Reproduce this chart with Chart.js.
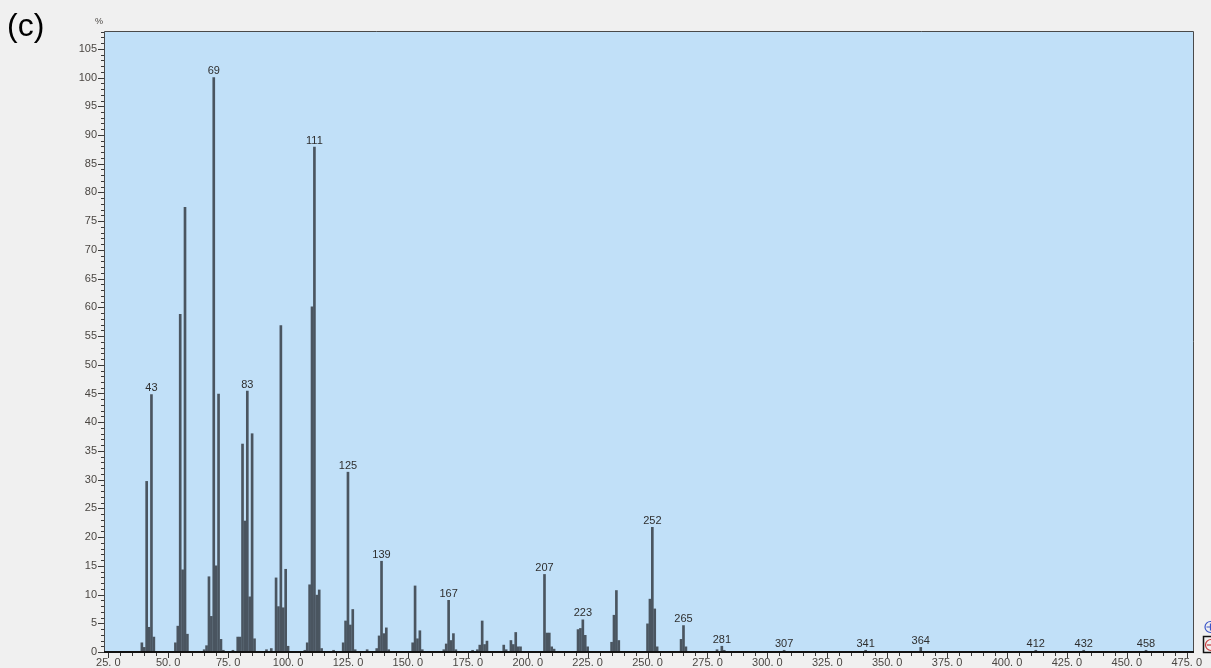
<!DOCTYPE html>
<html>
<head>
<meta charset="utf-8">
<script src="https://cdn.jsdelivr.net/npm/chart.js@4.4.1/dist/chart.umd.min.js"></script>
<style>
  html, body { margin: 0; padding: 0; background: #f0f0f0; }
  #wrap { width: 1211px; height: 668px; position: relative; }
</style>
</head>
<body>
<div id="wrap"><canvas id="spectrum" width="1211" height="668"></canvas></div>
<script>
// m/z of each fragment peak
const massValues = [
  39, 40, 41, 42, 43, 44,
  53, 54, 55, 56, 57, 58,
  65, 66, 67, 68, 69, 70, 71, 72, 73,
  77, 79, 80, 81, 82, 83, 84, 85, 86,
  91, 93, 95, 96, 97, 98, 99, 100,
  107, 108, 109, 110, 111, 112, 113, 114,
  119, 123, 124, 125, 126, 127, 128,
  133, 137, 138, 139, 140, 141, 142,
  152, 153, 154, 155, 156,
  165, 166, 167, 168, 169, 170,
  177, 179, 180, 181, 182, 183,
  190, 191, 193, 194, 195, 196, 197,
  207, 208, 209, 210, 211,
  221, 222, 223, 224, 225,
  235, 236, 237, 238,
  250, 251, 252, 253, 254,
  264, 265, 266,
  279, 281, 282,
  307, 341, 364, 412, 432, 458
];

// relative abundance (%) for each peak above
const intensities = [
  1.6, 0.8, 29.7, 4.3, 44.8, 2.6,
  1.6, 4.5, 58.8, 14.3, 77.4, 3.1,
  0.4, 1.1, 13.1, 6.2, 100, 15.0, 44.9, 2.2, 0.3,
  0.3, 2.6, 2.6, 36.2, 22.8, 45.4, 9.6, 38.0, 2.3,
  0.4, 0.6, 12.9, 7.9, 56.8, 7.7, 14.4, 1.0,
  0.3, 1.6, 11.7, 60.1, 87.9, 9.9, 10.8, 0.6,
  0.3, 1.6, 5.4, 31.3, 4.7, 7.4, 0.4,
  0.4, 0.6, 2.8, 15.8, 3.2, 4.2, 0.4,
  1.6, 11.5, 2.3, 3.7, 0.4,
  0.4, 1.4, 9.0, 2.0, 3.2, 0.4,
  0.3, 0.4, 1.2, 5.4, 1.3, 1.9,
  1.2, 0.4, 2.0, 1.3, 3.4, 0.9, 0.9,
  13.5, 3.3, 3.3, 0.9, 0.5,
  3.9, 4.1, 5.6, 2.9, 0.9,
  1.7, 6.4, 10.7, 2.0,
  4.9, 9.2, 21.7, 7.5, 0.9,
  2.2, 4.6, 0.9,
  0.4, 1.0, 0.3,
  0.3, 0.3, 0.8, 0.3, 0.3, 0.3
];

// peaks annotated with their m/z
const labeledMasses = [43, 69, 83, 111, 125, 139, 167, 207, 223, 252, 265, 281, 307, 341, 364, 412, 432, 458];

// axis tick values
const xMajorTicks = [25, 50, 75, 100, 125, 150, 175, 200, 225, 250, 275, 300, 325, 350, 375, 400, 425, 450, 475];
const yMajorTicks = [0, 5, 10, 15, 20, 25, 30, 35, 40, 45, 50, 55, 60, 65, 70, 75, 80, 85, 90, 95, 100, 105];

const panelLetter = '(c)';
const yUnit = '%';

const FAMILY = '"Liberation Sans", Arial, sans-serif';
const LABEL_FONT = '11px ' + FAMILY;
const TEXT_COLOR = '#4a4642';

const crisp = v => Math.round(v) + 0.5;

const spectrumFrame = {
  id: 'spectrumFrame',
  beforeDraw(chart) {
    const { ctx, chartArea: a } = chart;
    ctx.save();
    ctx.fillStyle = '#f0f0f0';
    ctx.fillRect(0, 0, chart.width, chart.height);
    ctx.fillStyle = '#c1e0f8';
    ctx.fillRect(a.left, a.top, a.right - a.left, a.bottom - a.top);
    ctx.restore();
  },
  afterDatasetsDraw(chart) {
    const { ctx, chartArea: a, scales } = chart;
    const xs = scales.x, ys = scales.y;
    ctx.save();

    // frame
    ctx.strokeStyle = '#4a4a4a';
    ctx.lineWidth = 1;
    ctx.beginPath();
    ctx.moveTo(crisp(a.left), a.bottom);
    ctx.lineTo(crisp(a.left), crisp(a.top));
    ctx.lineTo(crisp(a.right), crisp(a.top));
    ctx.lineTo(crisp(a.right), a.bottom);
    ctx.stroke();

    // baseline
    ctx.strokeStyle = '#111';
    ctx.lineWidth = 2;
    ctx.beginPath();
    ctx.moveTo(a.left, Math.round(a.bottom));
    ctx.lineTo(a.right + 1, Math.round(a.bottom));
    ctx.stroke();

    // y ticks: one per unit, longer every 5
    ctx.strokeStyle = '#3a3a3a';
    ctx.lineWidth = 1;
    ctx.beginPath();
    for (let v = 0; v <= ys.max; v += 1) {
      const y = crisp(ys.getPixelForValue(v));
      const len = v % 5 === 0 ? 6 : 3;
      ctx.moveTo(a.left - len, y);
      ctx.lineTo(a.left, y);
    }
    ctx.stroke();

    // x ticks: every 5, longer at labelled values
    ctx.beginPath();
    for (let v = xMajorTicks[0]; v <= xMajorTicks[xMajorTicks.length - 1]; v += 5) {
      const x = crisp(xs.getPixelForValue(v));
      const len = v % 25 === 0 ? 5 : 3;
      ctx.moveTo(x, a.bottom + 1);
      ctx.lineTo(x, a.bottom + 1 + len);
    }
    ctx.stroke();

    // peak annotations
    const meta = chart.getDatasetMeta(0);
    ctx.font = LABEL_FONT;
    ctx.fillStyle = '#2e2e2e';
    ctx.textAlign = 'center';
    ctx.textBaseline = 'bottom';
    massValues.forEach((m, i) => {
      if (!labeledMasses.includes(m)) return;
      const el = meta.data[i];
      ctx.fillText(String(m), el.x, el.y - 1);
    });

    // panel letter
    ctx.fillStyle = '#000';
    ctx.textBaseline = 'alphabetic';
    ctx.textAlign = 'left';
    ctx.font = '32px ' + FAMILY;
    ctx.fillText(panelLetter, 7, 36);

    // unit above the y axis
    ctx.font = '9px ' + FAMILY;
    ctx.fillStyle = TEXT_COLOR;
    ctx.textAlign = 'center';
    ctx.fillText(yUnit, 99, 24);

    // zoom buttons at the right edge
    ctx.lineWidth = 1.2;
    ctx.strokeStyle = '#3a55c8';
    ctx.beginPath();
    ctx.arc(1210.5, 627, 5.5, 0, Math.PI * 2);
    ctx.stroke();
    ctx.beginPath();
    ctx.moveTo(1206.5, 627); ctx.lineTo(1214, 627);
    ctx.moveTo(1210.5, 623.5); ctx.lineTo(1210.5, 630.5);
    ctx.stroke();
    ctx.strokeStyle = '#111';
    ctx.lineWidth = 1.5;
    ctx.strokeRect(1203.5, 636.5, 12, 16);
    ctx.strokeStyle = '#c83a3a';
    ctx.lineWidth = 1.2;
    ctx.beginPath();
    ctx.arc(1211, 645, 5.5, 0, Math.PI * 2);
    ctx.stroke();
    ctx.beginPath();
    ctx.moveTo(1207, 645); ctx.lineTo(1214, 645);
    ctx.stroke();

    ctx.restore();
  }
};

new Chart(document.getElementById('spectrum'), {
  type: 'bar',
  data: {
    datasets: [{
      data: massValues.map((m, i) => ({ x: m, y: intensities[i] })),
      backgroundColor: '#4a5560',
      borderWidth: 0,
      barThickness: 2,
      grouped: false
    }]
  },
  options: {
    responsive: false,
    devicePixelRatio: 1,
    animation: false,
    layout: { padding: { top: 31, right: 18, left: 0, bottom: 0 } },
    plugins: { legend: { display: false }, tooltip: { enabled: false } },
    scales: {
      x: {
        type: 'linear',
        min: 23.2,
        max: 477.6,
        offset: false,
        grid: { display: false, drawTicks: false },
        border: { display: false },
        afterBuildTicks: s => { s.ticks = xMajorTicks.map(v => ({ value: v })); },
        afterFit: s => { s.height = 16; },
        ticks: {
          autoSkip: false,
          maxRotation: 0,
          padding: 4,
          color: TEXT_COLOR,
          font: { family: FAMILY, size: 11 },
          callback: v => v.toFixed(1).replace('.', '. ')
        }
      },
      y: {
        min: 0,
        max: 108.1,
        grid: { display: false, drawTicks: false },
        border: { display: false },
        afterBuildTicks: s => { s.ticks = yMajorTicks.map(v => ({ value: v })); },
        afterFit: s => { s.width = 104; },
        ticks: {
          autoSkip: false,
          padding: 7,
          color: TEXT_COLOR,
          font: { family: FAMILY, size: 11 },
          callback: v => String(v)
        }
      }
    }
  },
  plugins: [spectrumFrame]
});
</script>
</body>
</html>
